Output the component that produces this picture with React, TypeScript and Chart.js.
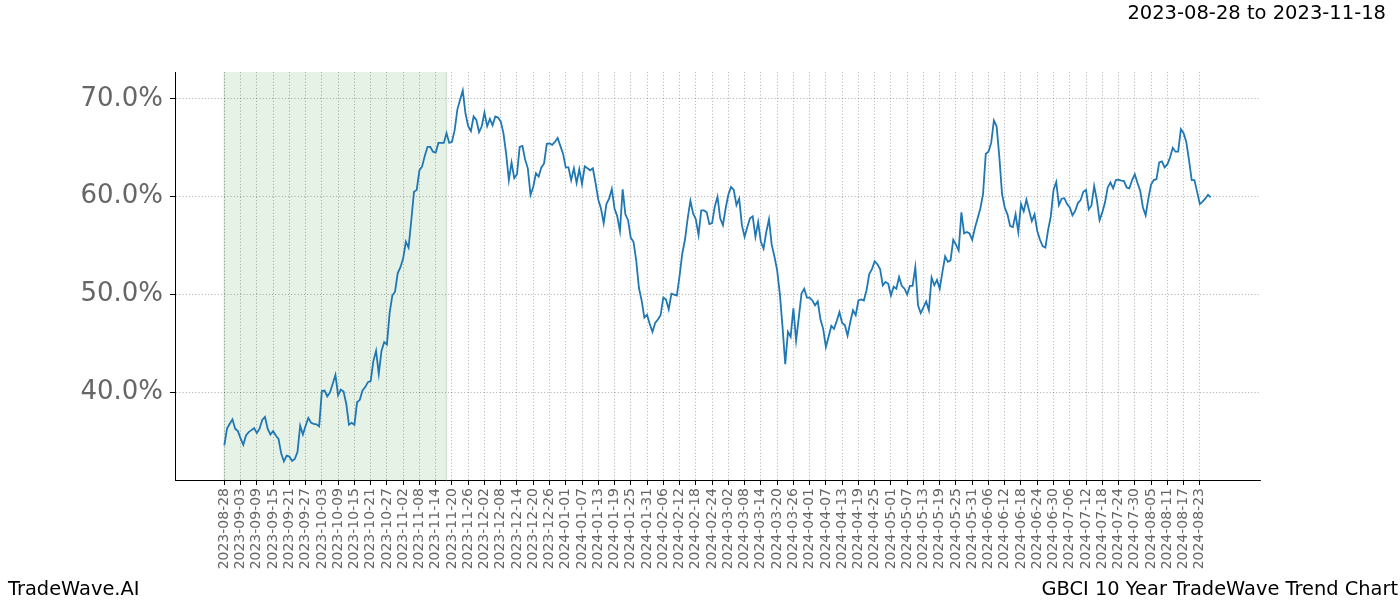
import React, { useEffect, useRef } from 'react';
import { Chart, registerables } from 'chart.js';

Chart.register(...registerables);

// ---- text ----
const TITLE = '2023-08-28 to 2023-11-18';
const FOOT_LEFT = 'TradeWave.AI';
const FOOT_RIGHT = 'GBCI 10 Year TradeWave Trend Chart';

// ---- highlighted window (row index from 2023-08-28) ----
const SPAN_START_IDX = 0; // 2023-08-28
const SPAN_END_IDX = 82; // 2023-11-18

// ---- daily values (%), one per row, 2023-08-28 .. 2024-08-27 ----
const sep2023 = [34.6, 36.3, 36.8, 37.25, 36.3, 36.05, 35.3, 34.65, 35.6, 35.95, 36.15, 36.35, 35.85, 36.3, 37.2, 37.5, 36.3, 35.7, 36.05, 35.6, 35.25, 33.75, 32.95, 33.55, 33.45, 33.0, 33.2, 33.9, 36.6, 35.7, 36.6, 37.4, 36.9, 36.8];
const oct2023 = [36.75, 36.55, 40.15, 40.2, 39.6, 40.0, 40.9, 41.8, 39.7, 40.3, 40.1, 38.85, 36.7, 36.9, 36.7, 39.0, 39.25, 40.2, 40.55, 41.05, 41.15, 43.2, 44.25, 41.9, 44.25, 45.15, 44.9, 48.1, 49.9, 50.3, 52.2];
const nov2023 = [52.8, 53.7, 55.4, 54.8, 57.6, 60.5, 60.7, 62.7, 63.1, 64.2, 65.1, 65.1, 64.6, 64.5, 65.5, 65.5, 65.5, 66.5, 65.5, 65.6, 66.8, 68.9, 69.9, 70.85, 68.5, 67.2, 66.7, 68.2, 67.85, 66.6];
const dec2023 = [67.2, 68.6, 67.2, 67.95, 67.3, 68.2, 68.1, 67.7, 66.5, 64.4, 61.7, 63.5, 61.9, 62.3, 65.1, 65.2, 63.8, 62.9, 60.2, 61.0, 62.4, 62.05, 63.0, 63.4, 65.4, 65.45, 65.3, 65.6, 66.0, 65.2, 64.4];
const jan2024 = [63.0, 63.0, 61.7, 62.9, 61.4, 62.8, 61.3, 63.1, 62.9, 62.7, 62.9, 61.4, 59.7, 58.8, 57.3, 59.25, 59.8, 60.8, 58.8, 58.0, 56.5, 60.75, 58.2, 57.6, 55.8, 55.4, 53.5, 50.7, 49.4, 47.65, 47.95];
const feb2024 = [47.0, 46.2, 47.1, 47.45, 47.9, 49.7, 49.5, 48.5, 50.1, 50.0, 49.9, 51.9, 54.2, 55.6, 57.8, 59.6, 58.3, 57.7, 56.1, 58.6, 58.6, 58.4, 57.2, 57.3, 59.0, 60.0, 57.8, 57.1];
const mar2024 = [58.8, 60.2, 61.0, 60.7, 59.15, 59.8, 57.1, 55.9, 56.9, 57.8, 58.0, 55.9, 57.4, 55.4, 54.7, 56.4, 57.7, 55.1, 53.9, 52.5, 50.1, 46.7, 42.9, 46.2, 45.7, 48.6, 45.3, 47.65, 50.1, 50.6, 49.7];
const apr2024 = [49.7, 49.4, 48.9, 49.3, 47.45, 46.5, 44.65, 45.7, 46.8, 46.5, 47.3, 48.2, 47.1, 46.9, 45.8, 47.2, 48.4, 47.9, 49.4, 49.5, 49.4, 50.45, 52.1, 52.6, 53.4, 53.1, 52.6, 50.95, 51.3, 51.1];
const may2024 = [49.9, 50.8, 50.6, 51.8, 50.9, 50.6, 50.0, 50.9, 50.9, 52.8, 48.9, 48.1, 48.7, 49.3, 48.4, 51.75, 50.95, 51.5, 50.6, 52.3, 53.9, 53.35, 53.5, 55.6, 55.1, 54.5, 58.4, 56.25, 56.4, 56.25, 55.6];
const jun2024 = [56.8, 57.8, 58.8, 60.3, 64.4, 64.6, 65.5, 67.8, 67.2, 64.1, 60.3, 58.9, 58.2, 57.0, 56.9, 58.2, 56.4, 59.25, 58.5, 59.7, 58.6, 57.5, 58.2, 56.5, 55.6, 54.95, 54.8, 56.6, 58.0, 60.7];
const jul2024 = [61.5, 59.15, 59.8, 59.85, 59.25, 58.9, 58.1, 58.55, 59.35, 59.65, 60.5, 60.7, 58.7, 59.1, 61.1, 59.65, 57.6, 58.4, 59.4, 60.95, 61.45, 60.85, 61.7, 61.75, 61.65, 61.6, 60.95, 60.85, 61.7, 62.3, 61.4];
const aug2024 = [60.6, 58.9, 58.1, 59.8, 61.25, 61.7, 61.8, 63.5, 63.6, 63.0, 63.3, 64.0, 65.0, 64.6, 64.6, 66.9, 66.5, 65.6, 63.75, 61.7, 61.7, 60.5, 59.25, 59.5, 59.8, 60.2, 59.95];

const values: number[] = [
  ...sep2023, ...oct2023, ...nov2023, ...dec2023, ...jan2024, ...feb2024,
  ...mar2024, ...apr2024, ...may2024, ...jun2024, ...jul2024, ...aug2024,
];

// ---- axis ticks ----
const X_TICK_STEP = 6;
const xTickLabels = [
  '2023-08-28', '2023-09-03', '2023-09-09', '2023-09-15', '2023-09-21', '2023-09-27',
  '2023-10-03', '2023-10-09', '2023-10-15', '2023-10-21', '2023-10-27', '2023-11-02',
  '2023-11-08', '2023-11-14', '2023-11-20', '2023-11-26', '2023-12-02', '2023-12-08',
  '2023-12-14', '2023-12-20', '2023-12-26', '2024-01-01', '2024-01-07', '2024-01-13',
  '2024-01-19', '2024-01-25', '2024-01-31', '2024-02-06', '2024-02-12', '2024-02-18',
  '2024-02-24', '2024-03-02', '2024-03-08', '2024-03-14', '2024-03-20', '2024-03-26',
  '2024-04-01', '2024-04-07', '2024-04-13', '2024-04-19', '2024-04-25', '2024-05-01',
  '2024-05-07', '2024-05-13', '2024-05-19', '2024-05-25', '2024-05-31', '2024-06-06',
  '2024-06-12', '2024-06-18', '2024-06-24', '2024-06-30', '2024-07-06', '2024-07-12',
  '2024-07-18', '2024-07-24', '2024-07-30', '2024-08-05', '2024-08-11', '2024-08-17',
  '2024-08-23',
];
const yTickValues = [40, 50, 60, 70];

const FONT = '"DejaVu Sans", Verdana, sans-serif';

export default function App() {
  const canvasRef = useRef<HTMLCanvasElement | null>(null);

  useEffect(() => {
    const canvas = canvasRef.current;
    if (!canvas) return;

    const n = values.length;
    const xPad = 0.05 * (n - 1);
    const vMin = Math.min(...values);
    const vMax = Math.max(...values);
    const yPad = 0.05 * (vMax - vMin);

    const overlay = {
      id: 'overlay',
      beforeDraw(chart: any) {
        const { ctx, chartArea, scales } = chart;
        const x0 = scales.x.getPixelForValue(SPAN_START_IDX);
        const x1 = scales.x.getPixelForValue(SPAN_END_IDX);
        ctx.save();
        ctx.fillStyle = 'rgba(0,128,0,0.1)';
        ctx.fillRect(x0, chartArea.top, x1 - x0, chartArea.bottom - chartArea.top);
        ctx.strokeStyle = 'rgba(0,90,0,0.13)';
        ctx.lineWidth = 1.5;
        ctx.beginPath();
        ctx.moveTo(x0, chartArea.top);
        ctx.lineTo(x0, chartArea.bottom);
        ctx.moveTo(x1, chartArea.top);
        ctx.lineTo(x1, chartArea.bottom);
        ctx.stroke();
        ctx.restore();
      },
      afterDraw(chart: any) {
        const ctx = chart.ctx;
        ctx.save();
        ctx.fillStyle = '#000';
        ctx.textBaseline = 'alphabetic';
        ctx.font = `19.5px ${FONT}`;
        ctx.textAlign = 'right';
        ctx.fillText(TITLE, 1386, 19);
        ctx.font = `19.4px ${FONT}`;
        ctx.textAlign = 'left';
        ctx.fillText(FOOT_LEFT, 8, 595);
        ctx.textAlign = 'right';
        ctx.fillText(FOOT_RIGHT, 1398, 595);
        ctx.restore();
      },
    };

    const chart = new Chart(canvas, {
      type: 'line',
      data: {
        datasets: [
          {
            data: values.map((v, i) => ({ x: i, y: v })),
            borderColor: '#1f77b4',
            borderWidth: 1.8,
            pointRadius: 0,
            tension: 0,
            fill: false,
          },
        ],
      },
      options: {
        animation: false,
        responsive: false,
        devicePixelRatio: 1,
        layout: { padding: { left: 0, top: 72, right: 140, bottom: 0 } },
        plugins: {
          legend: { display: false },
          tooltip: { enabled: false },
          title: { display: false },
        },
        scales: {
          x: {
            type: 'linear',
            min: -xPad,
            max: n - 1 + xPad,
            afterBuildTicks: (scale: any) => {
              scale.ticks = xTickLabels.map((_, k) => ({ value: k * X_TICK_STEP }));
            },
            afterFit: (scale: any) => {
              scale.height = 120;
            },
            ticks: {
              autoSkip: false,
              minRotation: 90,
              maxRotation: 90,
              padding: 3,
              color: '#666666',
              font: { family: FONT, size: 14 },
              callback: (_v: any, index: number) => xTickLabels[index],
            },
            grid: {
              display: true,
              color: 'rgba(0,0,0,0.34)',
              lineWidth: 0.8,
              drawTicks: true,
              tickLength: 5,
              tickColor: '#000',
              tickWidth: 1,
            },
            border: { display: true, color: '#000', width: 1, dash: [1.2, 2] },
          },
          y: {
            type: 'linear',
            min: vMin - yPad,
            max: vMax + yPad,
            afterBuildTicks: (scale: any) => {
              scale.ticks = yTickValues.map((v) => ({ value: v }));
            },
            afterFit: (scale: any) => {
              scale.width = 175;
            },
            ticks: {
              padding: 7,
              color: '#666666',
              font: { family: FONT, size: 26 },
              callback: (v: any) => `${Number(v).toFixed(1)}%`,
            },
            grid: {
              display: true,
              color: 'rgba(0,0,0,0.34)',
              lineWidth: 0.8,
              drawTicks: true,
              tickLength: 5,
              tickColor: '#000',
              tickWidth: 1,
            },
            border: { display: true, color: '#000', width: 1, dash: [1.2, 2] },
          },
        },
      },
      plugins: [overlay],
    } as any);

    return () => {
      chart.destroy();
    };
  }, []);

  return (
    <div style={{ position: 'fixed', left: 0, top: 0, width: 1400, height: 600, background: '#fff' }}>
      <canvas ref={canvasRef} width={1400} height={600} style={{ display: 'block', width: 1400, height: 600 }} />
    </div>
  );
}
